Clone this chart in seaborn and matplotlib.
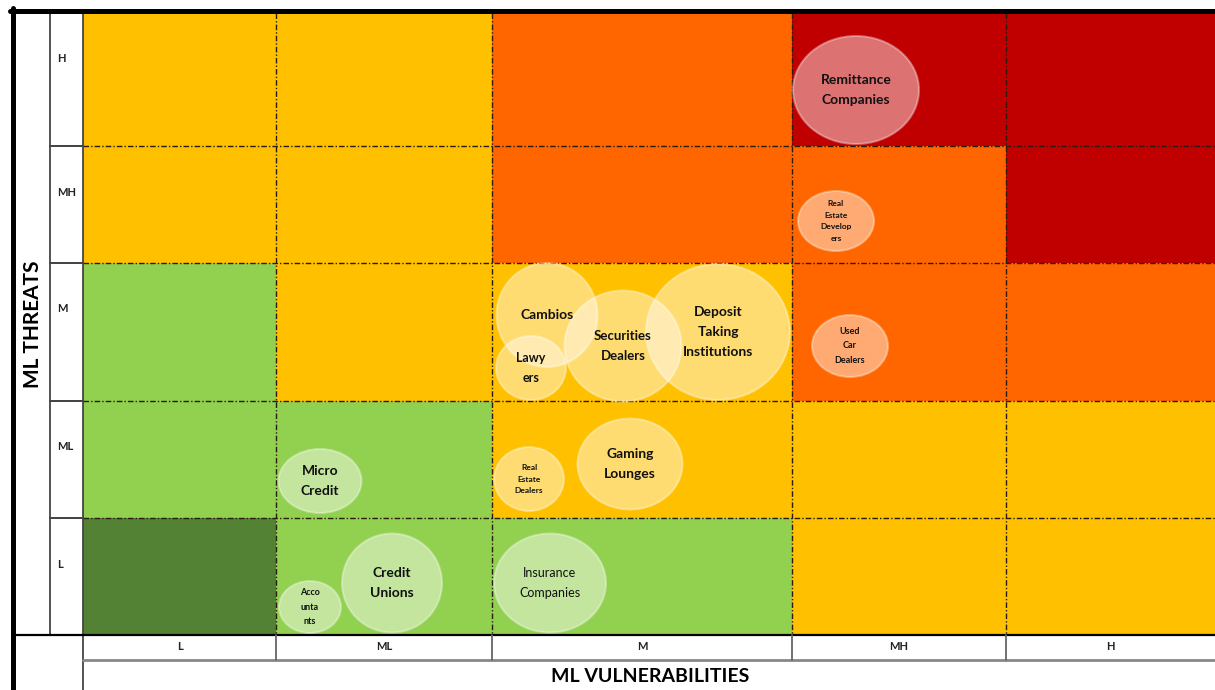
import numpy as np
import matplotlib
matplotlib.use('Agg')
import matplotlib.pyplot as plt
from matplotlib.colors import ListedColormap
from matplotlib.patches import Ellipse
import seaborn as sns

# risk matrix: rows = threat level (top to bottom), cols = vulnerability level
threat_levels = ['H', 'MH', 'M', 'ML', 'L']
vuln_levels = ['L', 'ML', 'M', 'MH', 'H']
risk_grid = [[2, 2, 3, 4, 4],
             [2, 2, 3, 3, 4],
             [1, 2, 2, 3, 3],
             [1, 1, 2, 2, 2],
             [0, 1, 1, 2, 2]]
risk_colors = ['#548235', '#92D050', '#FFC000', '#FF6600', '#C00000']

# sectors (bubble centre, width, height, in pixel units)
sector_names = ['Remittance\nCompanies', 'Real\nEstate\nDevelop\ners', 'Used\nCar\nDealers',
                'Cambios', 'Lawy\ners', 'Securities\nDealers', 'Deposit\nTaking\nInstitutions',
                'Gaming\nLounges', 'Real\nEstate\nDealers', 'Micro\nCredit',
                'Credit\nUnions', 'Insurance\nCompanies', 'Acco\nunta\nnts']
sector_x = [856, 836, 850, 547, 531, 623, 718, 630, 529, 320, 392, 550, 310]
sector_y = [90, 221, 346, 315, 368, 346, 332, 464, 479, 481, 583, 583, 607]
sector_w = [126, 76, 76, 101, 70, 117, 144, 105, 70, 83, 100, 112, 62]
sector_h = [108, 60, 62, 104, 64, 111, 136, 91, 64, 64, 99, 99, 52]
label_size = [10, 6, 6.5, 10, 9, 9.5, 10, 10, 6, 10, 10, 9, 6.5]
label_weight = ['bold'] * 11 + ['normal', 'bold']

# layout of the table (pixels)
col_edges = [83, 276, 492, 792, 1006, 1240]
row_edges = [13, 146, 263, 401, 518, 635]

sns.set_theme(style='white')
plt.rcParams['font.family'] = ['Lato', 'DejaVu Sans']

fig = plt.figure(figsize=(12.15, 6.9), dpi=100)
ax = fig.add_axes([0, 0, 1, 1])
ax.set_xlim(0, 1215)
ax.set_ylim(690, 0)
ax.axis('off')

ax.pcolormesh(col_edges, row_edges, np.array(risk_grid), cmap=ListedColormap(risk_colors),
              vmin=-0.5, vmax=4.5, zorder=1)

# dash-dot cell borders
dd = (0, (4, 1.5, 1, 1.5))
for x in col_edges[1:-1]:
    ax.plot([x, x], [row_edges[0], row_edges[-1]], color='#2a1a10', lw=1, ls=dd, zorder=2)
for y in row_edges[1:-1]:
    ax.plot([col_edges[0], 1215], [y, y], color='#2a1a10', lw=1, ls=dd, zorder=2)
    ax.plot([50, 83], [y, y], color='#333333', lw=1.3, zorder=2)

# frame / table lines
ax.plot([12.5, 12.5], [8, 690], color='black', lw=3.6, zorder=5)
ax.plot([10, 1215], [10.5, 10.5], color='black', lw=3.6, zorder=5)
ax.plot([50, 50], [13, 635], color='#444444', lw=1.3, zorder=3)
ax.plot([83, 83], [13, 690], color='#444444', lw=1.3, zorder=3)
ax.plot([15, 1215], [635, 635], color='black', lw=1.6, zorder=3)
ax.plot([83, 1215], [660, 660], color='#888888', lw=2, zorder=3)
for x in col_edges[1:-1]:
    ax.plot([x, x], [635, 660], color='#666666', lw=1.3, zorder=3)

# bubbles
for i in range(len(sector_names)):
    e = Ellipse((sector_x[i], sector_y[i]), sector_w[i], sector_h[i],
                facecolor=(1, 1, 1, 0.45), edgecolor=(1, 1, 1, 0.35), lw=1.5, zorder=4)
    ax.add_patch(e)
for i in range(len(sector_names)):
    ax.text(sector_x[i], sector_y[i], sector_names[i], ha='center', va='center',
            fontsize=label_size[i], fontweight=label_weight[i], color='#111111',
            linespacing=1.75, zorder=6)

# axis labels
for i, lab in enumerate(threat_levels):
    ax.text(57, row_edges[i] + 46, lab, ha='left', va='center', fontsize=8,
            fontweight='bold', color='#222222')
for i, lab in enumerate(vuln_levels):
    right = min(col_edges[i + 1], 1215)
    ax.text((col_edges[i] + right) / 2, 646, lab, ha='center', va='center', fontsize=8,
            fontweight='bold', color='#222222')
ax.text(33, 324, 'ML THREATS', rotation=90, ha='center', va='center', fontsize=15,
        fontweight='bold', color='black')
ax.text(650, 677, 'ML VULNERABILITIES', ha='center', va='center', fontsize=14,
        fontweight='bold', color='black')

plt.savefig('out.png', dpi=100)
